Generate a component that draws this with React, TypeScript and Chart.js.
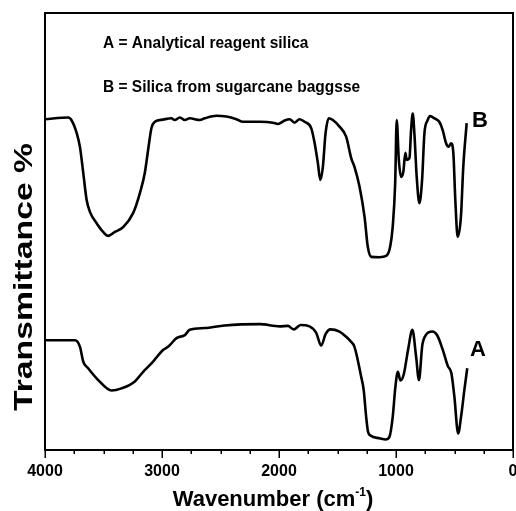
import { useEffect, useRef } from 'react';
import { Chart, registerables } from 'chart.js';

Chart.register(...registerables);

// Wavenumbers (cm-1) and transmittance (arbitrary units) for curve A
const WN_A = [4000, 3744, 3701, 3673, 3631, 3545, 3431, 3346, 3232, 3161, 3090, 2991, 2948, 2876, 2805, 2763, 2635, 2464, 2165, 1995, 1924, 1875, 1815, 1739, 1682, 1639, 1602, 1560, 1483, 1426, 1389, 1355, 1298, 1276, 1255, 1240, 1218, 1141, 1090, 1056, 1028, 1005, 984, 962, 933, 897, 860, 828, 804, 775, 745, 689, 647, 600, 557, 527, 501, 469, 442, 416, 391];
const T_A = [25.1, 25.1, 23.6, 20.2, 18.7, 16.0, 13.6, 14.1, 15.7, 17.9, 19.8, 22.9, 23.6, 25.6, 26.3, 27.5, 27.9, 28.5, 28.8, 28.3, 28.4, 27.6, 28.6, 28.3, 26.8, 23.9, 26.5, 27.6, 27.1, 25.9, 24.9, 23.6, 16.8, 13.7, 7.6, 4.3, 3.3, 2.7, 2.4, 3.0, 7.6, 14.5, 17.9, 15.9, 17.4, 22.9, 27.5, 21.3, 16.0, 24.0, 26.3, 27.1, 26.2, 22.9, 19.2, 17.6, 12.2, 3.8, 8.0, 13.7, 18.7];

// Curve B
const WN_B = [4000, 3801, 3772, 3729, 3701, 3673, 3644, 3616, 3559, 3503, 3460, 3403, 3332, 3247, 3189, 3147, 3119, 3090, 3061, 2993, 2919, 2891, 2848, 2805, 2763, 2677, 2635, 2535, 2450, 2364, 2308, 2165, 2052, 2009, 1952, 1909, 1867, 1824, 1781, 1724, 1696, 1668, 1647, 1625, 1602, 1574, 1540, 1483, 1426, 1383, 1355, 1312, 1269, 1241, 1212, 1141, 1084, 1050, 1028, 1007, 994, 976, 956, 937, 920, 908, 885, 871, 857, 843, 823, 800, 777, 757, 729, 709, 672, 630, 601, 572, 550, 530, 510, 493, 473, 445, 425, 396];
const T_B = [75.7, 76.1, 75.4, 72.5, 69.3, 63.4, 57.2, 54.5, 51.9, 49.9, 49.0, 49.9, 51.0, 54.2, 58.8, 63.4, 68.6, 73.7, 75.1, 75.6, 75.9, 75.5, 76.1, 75.5, 75.9, 75.5, 75.9, 76.5, 76.3, 75.7, 75.1, 75.1, 74.9, 74.6, 75.4, 75.7, 74.9, 75.7, 75.1, 73.6, 70.3, 65.7, 61.8, 64.8, 72.5, 75.9, 75.5, 74.0, 71.7, 66.8, 64.8, 60.3, 53.4, 46.5, 44.2, 44.1, 44.4, 46.5, 51.1, 61.1, 75.5, 66.4, 62.5, 63.7, 68.0, 66.4, 66.8, 73.2, 77.0, 72.5, 62.5, 56.5, 61.8, 72.5, 75.5, 76.4, 75.9, 75.1, 73.2, 70.2, 69.4, 70.2, 68.0, 57.2, 48.8, 53.4, 64.8, 74.8];

const X_MIN = 0;
const X_MAX = 4000;
const X_MAJOR = 1000;
const X_MINOR = 250;
const Y_MIN = 0;
const Y_MAX = 100;

const X_TITLE_MAIN = 'Wavenumber (cm';
const X_TITLE_SUP = '-1';
const X_TITLE_END = ')';
const Y_TITLE = 'Transmittance %';
const NOTE_A = 'A = Analytical reagent silica';
const NOTE_B = 'B = Silica from sugarcane baggsse';
const SERIES_A = 'A';
const SERIES_B = 'B';

const FONT = 'Arial, "Liberation Sans", Helvetica, sans-serif';

const framePlugin = {
  id: 'frame',
  afterDraw(chart: any) {
    const { ctx, chartArea: a, scales } = chart;
    const x = scales.x;
    ctx.save();
    ctx.strokeStyle = '#000';
    ctx.lineWidth = 2;
    ctx.strokeRect(a.left, a.top, a.right - a.left, a.bottom - a.top);

    ctx.lineWidth = 1.5;
    for (let v = X_MIN; v <= X_MAX; v += X_MINOR) {
      const px = Math.round(x.getPixelForValue(v)) + 0.25;
      const len = v % X_MAJOR === 0 ? 8 : 4;
      ctx.beginPath();
      ctx.moveTo(px, a.bottom);
      ctx.lineTo(px, a.bottom + len);
      ctx.stroke();
    }

    ctx.fillStyle = '#000';
    ctx.textAlign = 'left';
    ctx.textBaseline = 'alphabetic';

    // notes, slightly stretched vertically like the reference
    ctx.save();
    ctx.font = `bold 15.5px ${FONT}`;
    ctx.translate(a.left + 58, a.top + 35);
    ctx.scale(1, 1.1);
    ctx.fillText(NOTE_A, 0, 0);
    ctx.restore();
    ctx.save();
    ctx.font = `bold 15.5px ${FONT}`;
    ctx.translate(a.left + 58, a.top + 79);
    ctx.scale(1, 1.1);
    ctx.fillText(NOTE_B, 0, 0);
    ctx.restore();

    ctx.font = `bold 22px ${FONT}`;
    ctx.fillText(SERIES_B, a.left + 427, a.top + 114);
    ctx.fillText(SERIES_A, a.left + 425, a.top + 343);

    // x title with superscript
    const mainFont = `bold 22px ${FONT}`;
    const supFont = `bold 12px ${FONT}`;
    ctx.font = mainFont;
    const w1 = ctx.measureText(X_TITLE_MAIN).width;
    const w3 = ctx.measureText(X_TITLE_END).width;
    ctx.font = supFont;
    const w2 = ctx.measureText(X_TITLE_SUP).width;
    const total = w1 + w2 + w3;
    const cx = (a.left + a.right) / 2 - 6;
    const sx = cx - total / 2;
    const base = a.bottom + 56;
    ctx.font = mainFont;
    ctx.fillText(X_TITLE_MAIN, sx, base);
    ctx.font = supFont;
    ctx.fillText(X_TITLE_SUP, sx + w1, base - 10);
    ctx.font = mainFont;
    ctx.fillText(X_TITLE_END, sx + w1 + w2, base);

    // y title (stretched along its length like the reference)
    ctx.save();
    ctx.font = `bold 26px ${FONT}`;
    const yw = ctx.measureText(Y_TITLE).width;
    ctx.translate(32, 277);
    ctx.rotate(-Math.PI / 2);
    ctx.scale(268 / yw, 1);
    ctx.textAlign = 'center';
    ctx.fillText(Y_TITLE, 0, 0);
    ctx.restore();

    ctx.restore();
  },
};

export default function App() {
  const ref = useRef<HTMLCanvasElement | null>(null);

  useEffect(() => {
    const canvas = ref.current;
    if (!canvas) return;
    const chart = new Chart(canvas, {
      type: 'line',
      data: {
        datasets: [
          {
            label: 'A',
            data: WN_A.map((w, i) => ({ x: w, y: T_A[i] })),
            borderColor: '#000',
            borderWidth: 2.6,
            pointRadius: 0,
            fill: false,
            cubicInterpolationMode: 'monotone',
          },
          {
            label: 'B',
            data: WN_B.map((w, i) => ({ x: w, y: T_B[i] })),
            borderColor: '#000',
            borderWidth: 2.6,
            pointRadius: 0,
            fill: false,
            cubicInterpolationMode: 'monotone',
          },
        ],
      },
      options: {
        responsive: false,
        animation: false,
        devicePixelRatio: 1,
        layout: { padding: { top: 13, right: 3, left: 0, bottom: 0 } },
        plugins: { legend: { display: false }, tooltip: { enabled: false } },
        scales: {
          x: {
            type: 'linear',
            min: X_MIN,
            max: X_MAX,
            reverse: true,
            grid: { display: false, drawTicks: false },
            border: { display: false },
            ticks: {
              stepSize: X_MAJOR,
              color: '#000',
              padding: 12,
              maxRotation: 0,
              autoSkip: false,
              font: { family: FONT, size: 16, weight: 'bold' },
              callback: (v: any) => String(v),
            },
            afterFit: (s: any) => {
              s.height = 61;
              s.paddingLeft = 0;
              s.paddingRight = 0;
            },
          },
          y: {
            min: Y_MIN,
            max: Y_MAX,
            grid: { display: false, drawTicks: false },
            border: { display: false },
            ticks: { display: false },
            afterFit: (s: any) => {
              s.width = 45;
              s.paddingTop = 0;
              s.paddingBottom = 0;
            },
          },
        },
      },
      plugins: [framePlugin],
    } as any);
    return () => chart.destroy();
  }, []);

  return (
    <div style={{ position: 'absolute', left: 0, top: 0, width: 516, height: 511, background: '#fff' }}>
      <canvas ref={ref} width={516} height={511} style={{ display: 'block' }} />
    </div>
  );
}
